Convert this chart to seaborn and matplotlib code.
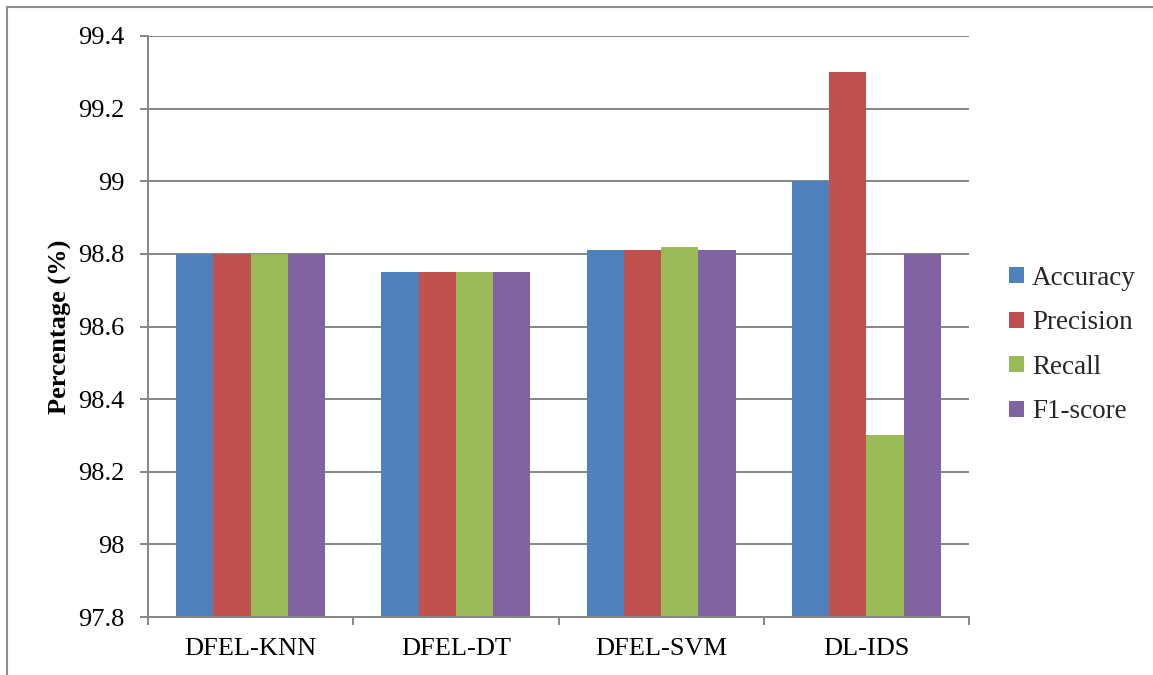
import matplotlib
matplotlib.use("Agg")
import matplotlib.pyplot as plt
import matplotlib.ticker as mticker
from matplotlib.lines import Line2D
import seaborn as sns
import pandas as pd
import numpy as np

categories = ["DFEL-KNN", "DFEL-DT", "DFEL-SVM", "DL-IDS"]
metrics = ["Accuracy", "Precision", "Recall", "F1-score"]
accuracy = [98.80, 98.75, 98.81, 99.00]
precision = [98.80, 98.75, 98.81, 99.30]
recall = [98.80, 98.75, 98.82, 98.30]
f1_score = [98.80, 98.75, 98.81, 98.80]
colors = ["#4F81BD", "#C0504D", "#9BBB59", "#8064A2"]
y_ticks = [97.8, 98.0, 98.2, 98.4, 98.6, 98.8, 99.0, 99.2, 99.4]

series = {"Accuracy": accuracy, "Precision": precision, "Recall": recall, "F1-score": f1_score}
rows = []
for m in metrics:
    for c, v in zip(categories, series[m]):
        rows.append({"Model": c, "Metric": m, "Value": v})
df = pd.DataFrame(rows)

sns.set_theme(style="white")
plt.rcParams["font.family"] = ["Liberation Serif", "DejaVu Serif"]

W, H = 1153, 675
fig = plt.figure(figsize=(W / 100, H / 100), dpi=100)
ax = fig.add_axes([148 / W, 1 - 617 / H, (969 - 148) / W, (617 - 36) / H])

sns.barplot(data=df, x="Model", y="Value", hue="Metric", order=categories,
            hue_order=metrics, palette=colors, width=0.725, gap=0,
            saturation=1, linewidth=0, ax=ax, legend=False, errorbar=None)

grid_c = "#868686"
ax.set_ylim(97.8, 99.4)
ax.set_xlim(-0.5, 3.5)
ax.set_yticks(y_ticks)
ax.yaxis.set_major_formatter(mticker.FuncFormatter(lambda v, p: f"{v:g}"))
ax.yaxis.grid(True, color=grid_c, linewidth=1.4)
ax.set_axisbelow(True)
for s in ["top", "right"]:
    ax.spines[s].set_visible(False)
for s in ["left", "bottom"]:
    ax.spines[s].set_color(grid_c)
    ax.spines[s].set_linewidth(1.4)

ax.tick_params(axis="y", which="major", left=True, length=6, width=1.4,
               color=grid_c, labelsize=19, pad=11, labelcolor="black")
ax.tick_params(axis="x", which="major", bottom=False, length=0, labelsize=19,
               pad=15, labelcolor="black")
ax.set_xticks(np.arange(-0.5, 4.0, 1.0), minor=True)
ax.tick_params(axis="x", which="minor", bottom=True, length=6, width=1.4, color=grid_c)

ax.set_xlabel("")
ax.set_ylabel("Percentage (%)", fontsize=19, fontweight="bold", labelpad=4, color="black")

handles = [plt.Rectangle((0, 0), 1, 1, facecolor=c, edgecolor="none") for c in colors]
fig.legend(handles, metrics, loc="center left", bbox_to_anchor=(1009 / W, 1 - 345 / H),
           frameon=False, fontsize=19.5, handlelength=0.55, handleheight=0.55,
           handletextpad=0.3, labelspacing=0.72, borderpad=0, borderaxespad=0)

# figure frame (top and left edges visible)
fig.add_artist(Line2D([6.5 / W, 6.5 / W], [0, 1 - 6.5 / H], transform=fig.transFigure,
                      color="#8c8c8c", linewidth=1.5))
fig.add_artist(Line2D([6.5 / W, 1], [1 - 6.5 / H, 1 - 6.5 / H], transform=fig.transFigure,
                      color="#8c8c8c", linewidth=1.5))

fig.savefig("out.png", dpi=100)
